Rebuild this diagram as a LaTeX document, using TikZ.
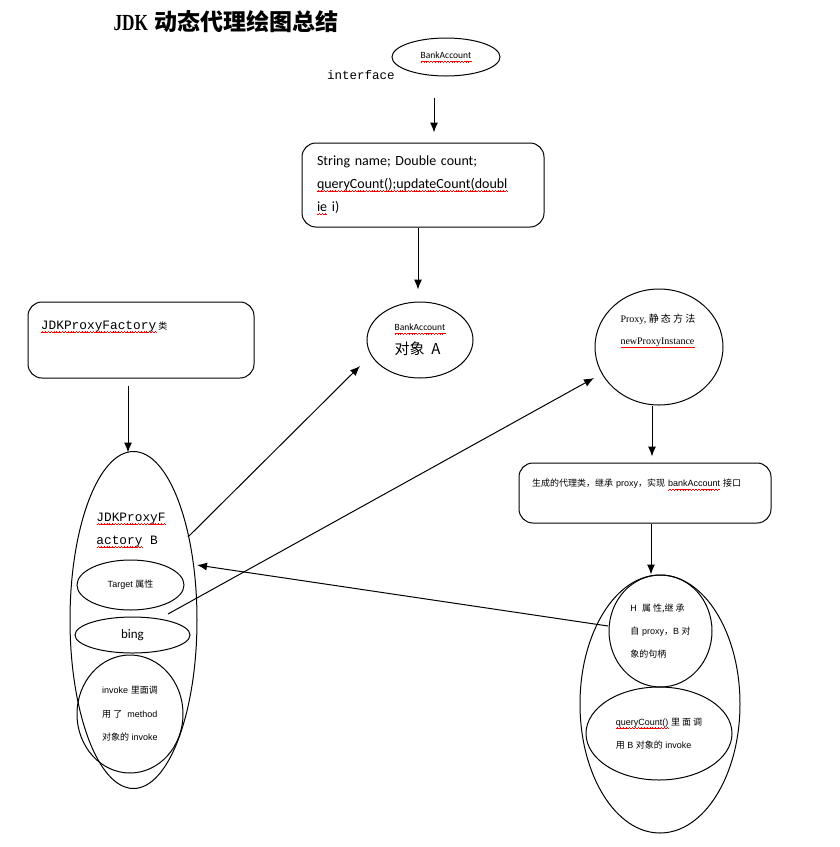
\documentclass[tikz,border=0pt]{standalone}
\usepackage{fontspec}
\usetikzlibrary{arrows.meta,positioning,shapes.geometric}
\setmainfont{Liberation Sans}
\newfontfamily\cjk{Noto Sans CJK SC}
\newfontfamily\calib{Carlito}
\newfontfamily\monofont{Liberation Mono}
\newfontfamily\romanfont{Liberation Serif}
\newfontfamily\titlefont[FakeStretch=0.75]{Liberation Serif Bold}
\newcommand\wavebit{\hbox{\rule[-3.4pt]{0.7pt}{0.5pt}\rule[-3pt]{0.7pt}{0.5pt}\rule[-2.6pt]{0.7pt}{0.5pt}\rule[-3pt]{0.7pt}{0.5pt}}}
\newcommand\spell[1]{\leavevmode\setbox0\hbox{#1}\rlap{\hbox to\wd0{\color{red}\xleaders\wavebit\hfil}}\box0\relax}

\begin{document}
\begin{tikzpicture}[
  x=1pt,y=-1pt,
  oval/.style={
    draw,
    ellipse,
    inner sep=0pt,
    line width=1pt
  },
  box/.style={
    draw,
    rounded corners=14pt,
    line width=1pt,
    align=left
  },
  txt/.style={align=left,inner sep=0pt},
  arrow/.style={-{Latex[length=10pt,width=8pt]},line width=1pt}
]
  \useasboundingbox (0,0) rectangle (840,847);

  \node[anchor=west,font=\fontsize{23}{26}\selectfont\bfseries] (title) at (110,22)
    {{\titlefont JDK} {\cjk 动态代理绘图总结}};

  \node[font=\monofont\fontsize{12.5}{14}\selectfont] (iface) at (361,75) {interface};
  \node[oval,minimum width=108pt,minimum height=38pt,font=\calib\fontsize{9.5}{11}\selectfont] (bank)
    at (446,57) {\spell{BankAccount}};
  \node[box,minimum height=84pt,text width=212pt,inner xsep=15pt,font=\calib\fontsize{14}{23}\selectfont] (fields)
    at (423,185) {String name; Double count;\\\spell{queryCount();updateCount(doubl}\\\spell{ie} i)};
  \node[oval,minimum width=106pt,minimum height=76pt,align=left,font=\fontsize{9.5}{24}\selectfont] (objA)
    at (420,340) {{\calib\spell{BankAccount}}\\{\cjk\fontsize{15}{24}\selectfont 对象\ \ A}};

  \node[box,minimum height=76pt,text width=200pt,inner xsep=13pt,font=\monofont\fontsize{12.8}{30}\selectfont] (factory)
    at (141,340) {\spell{JDKProxyFactory}\,{\cjk\fontsize{9}{30}\selectfont 类}\\\mbox{}};
  \node[oval,minimum width=127pt,minimum height=337pt] (factoryB) at (133.5,620) {};
  \node[txt,font=\monofont\fontsize{12.8}{23}\selectfont] (factoryBname)
    at (131,530) {\spell{JDKProxyF}\\\spell{actory} B};
  \node[oval,minimum width=107pt,minimum height=50pt,font=\fontsize{9}{11}\selectfont] (target)
    at (130.5,585) {Target {\cjk 属性}};
  \node[oval,minimum width=115pt,minimum height=36pt,font=\calib\fontsize{13}{15}\selectfont] (bing)
    at (132.5,635) {bing};
  \node[oval,minimum width=106pt,minimum height=118pt,align=left,font=\fontsize{9}{23.5}\selectfont] (invoke)
    at (130,714) {invoke {\cjk 里面调}\\{\cjk 用 了}\ \ method\\{\cjk 对象的} invoke};

  \node[oval,minimum width=128pt,minimum height=116pt] (proxy) at (659,347) {};
  \node[txt,font=\romanfont\fontsize{10}{22}\selectfont] (proxyname)
    at (658,331) {Proxy, {\cjk 静 态 方 法}\\\spell{newProxyInstance}};
  \node[box,minimum height=60pt,text width=226pt,inner xsep=13pt,font=\fontsize{9}{20}\selectfont] (gen)
    at (645,493) {{\cjk 生成的代理类，继承} proxy{\cjk ，实现} \spell{bankAccount} {\cjk 接口}\\\mbox{}};
  \node[oval,minimum width=160pt,minimum height=258pt] (outer) at (660,704) {};
  \node[oval,minimum width=103pt,minimum height=112pt,align=left,font=\fontsize{9}{23}\selectfont] (hprop)
    at (660.5,631) {H\ \ {\cjk 属 性,继 承}\\{\cjk 自} proxy{\cjk ，}B {\cjk 对}\\{\cjk 象的句柄}};
  \node[oval,minimum width=146pt,minimum height=93pt,align=left,font=\fontsize{9}{23}\selectfont] (query)
    at (659,733.5) {\spell{queryCount()} {\cjk 里 面 调}\\{\cjk 用} B {\cjk 对象的} invoke};

  \draw[arrow] ([shift={(-12,21)}]bank.south) -- ([shift={(11,-10)}]fields.north);
  \draw[arrow] ([shift={(-5,0)}]fields.south) -- ([shift={(-2,-12)}]objA.north);
  \draw[arrow] ([shift={(-13,7)}]factory.south) -- ([shift={(-5.5,1.5)}]factoryB.north);
  \draw[arrow] ([shift={(54.5,-83)}]factoryB.center) -- ([shift={(-60,26)}]objA.center);
  \draw[arrow] ([shift={(34.5,-6)}]factoryB.center) -- ([shift={(-65,31)}]proxy.center);
  \draw[arrow] ([shift={(-7,0)}]proxy.south) -- ([shift={(7,-6)}]gen.north);
  \draw[arrow] ([shift={(6,0)}]gen.south) -- ([shift={(-9,0)}]outer.north);
  \draw[arrow] ([shift={(-52.5,-5)}]hprop.center) -- ([shift={(63.5,-55)}]factoryB.center);
\end{tikzpicture}
\end{document}
